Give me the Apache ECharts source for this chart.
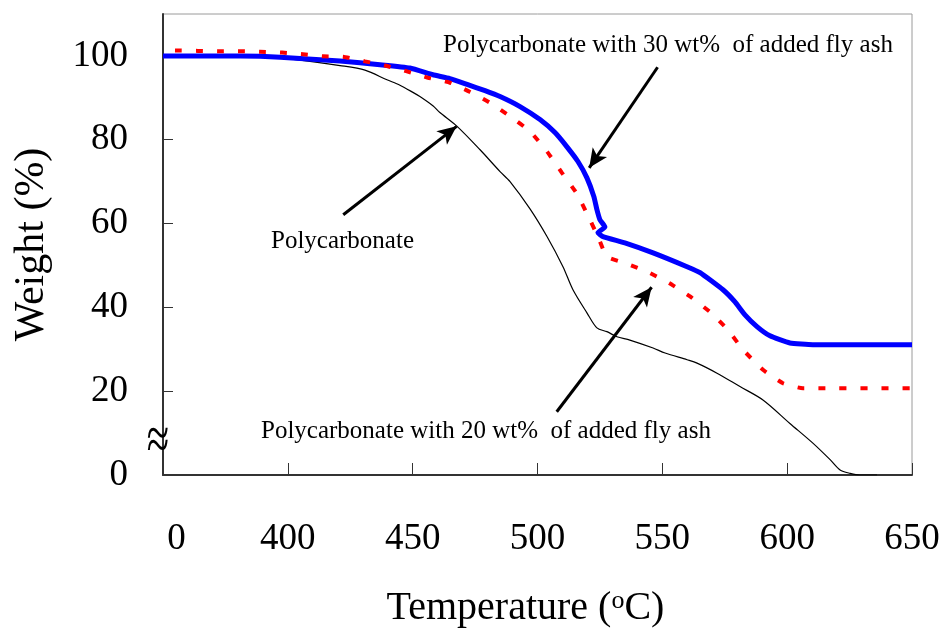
<!DOCTYPE html>
<html>
<head>
<meta charset="utf-8">
<script src="https://cdn.jsdelivr.net/npm/echarts@6/dist/echarts.min.js"></script>
<style>
  html, body { margin: 0; padding: 0; background: #fff; }
  #chart { width: 947px; height: 630px; }
</style>
</head>
<body>
<div id="chart"></div>
<script>
// Thermogravimetric curves: temperature (°C) vs remaining weight (%)
const xTicks = [350, 400, 450, 500, 550, 600, 650];
const yTicks = [0, 20, 40, 60, 80, 100];

// Neat polycarbonate
const pcTemp   = [350.0, 372.8, 388.9, 404.9, 420.9, 430.9, 439.7, 444.9, 450.1, 452.9, 458.1, 460.9, 467.8, 477.0, 485.0, 489.0, 497.0, 503.8, 510.2, 514.2, 519.8, 523.8, 527.8, 531.8, 537.0, 546.3, 551.1, 559.9, 563.9, 571.9, 581.1, 590.3, 601.1, 610.3, 617.3, 621.2, 625.2, 629.2, 636.0];
const pcWeight = [100.0, 100.0, 99.7, 99.0, 97.7, 96.6, 94.3, 93.0, 91.3, 90.3, 88.1, 86.5, 83.2, 77.6, 72.4, 70.0, 63.5, 56.9, 49.7, 44.2, 38.7, 35.1, 34.2, 33.0, 32.2, 30.3, 29.1, 27.5, 26.7, 24.3, 21.1, 17.9, 12.3, 7.6, 3.6, 1.2, 0.4, 0.0, 0.0];

// Polycarbonate with 30 wt% fly ash
const fa30Temp   = [350.0, 372.8, 388.9, 404.9, 420.9, 436.9, 448.9, 458.1, 464.9, 471.8, 479.0, 485.0, 493.0, 501.0, 507.0, 511.8, 516.2, 519.8, 522.6, 523.8, 525.0, 527.0, 524.2, 526.2, 535.0, 546.3, 559.9, 565.1, 574.3, 579.1, 583.1, 587.9, 593.1, 601.1, 610.3, 650.0];
const fa30Weight = [100.0, 100.0, 99.9, 99.4, 98.8, 97.9, 97.1, 95.5, 94.6, 93.2, 91.7, 90.3, 87.9, 84.8, 81.7, 78.3, 74.8, 70.9, 66.4, 63.3, 60.9, 59.2, 57.8, 56.9, 55.4, 53.0, 49.7, 48.3, 44.2, 41.3, 38.2, 35.4, 33.2, 31.5, 31.1, 31.1];

// Polycarbonate with 20 wt% fly ash
const fa20Temp   = [354.8, 364.0, 372.0, 380.8, 388.9, 397.7, 406.1, 414.1, 422.1, 430.9, 438.9, 447.7, 456.1, 465.0, 473.0, 481.0, 489.0, 497.0, 503.8, 509.8, 515.8, 520.2, 524.2, 527.8, 535.8, 544.3, 552.7, 561.1, 569.1, 576.3, 582.3, 590.3, 598.3, 606.3, 650.0];
const fa20Weight = [101.3, 101.2, 101.1, 101.1, 101.0, 100.8, 100.4, 99.9, 99.8, 98.7, 97.7, 96.3, 94.8, 93.6, 91.4, 88.8, 85.6, 82.0, 77.2, 72.1, 67.1, 61.9, 56.9, 52.1, 50.4, 48.4, 45.8, 42.6, 38.9, 34.6, 29.9, 25.1, 21.9, 20.7, 20.7];

// Annotation arrows: [tail, head] in data coordinates
const arrows = [
  [[548.1, 97.3], [520.7, 73.3]],
  [[422.2, 62.1], [467.6, 83.2]],
  [[507.7, 15.1], [545.7, 44.8]]
];

const FONT = '"Liberation Serif", "Times New Roman", serif';
const pairs = (xs, ys) => xs.map((x, i) => [x, ys[i]]);

const chart = echarts.init(document.getElementById('chart'), null, { renderer: 'canvas' });

chart.setOption({
  backgroundColor: '#fff',
  animation: false,
  grid: {
    left: 163, right: 35, top: 14, bottom: 155,
    outerBoundsMode: 'none',
    containLabel: false,
    show: true, borderColor: '#9a9a9a', borderWidth: 1, backgroundColor: 'transparent'
  },
  xAxis: {
    type: 'value',
    min: xTicks[0], max: xTicks[xTicks.length - 1], interval: 50,
    name: 'Temperature ({sup|o}C)',
    nameLocation: 'middle',
    nameGap: 113,
    nameTextStyle: {
      fontFamily: FONT, fontSize: 40, color: '#000', padding: [0, 24, 0, 0],
      rich: { sup: { fontFamily: FONT, fontSize: 26, color: '#000', verticalAlign: 'top' } }
    },
    axisLine: { show: true, lineStyle: { color: '#333', width: 2 } },
    axisTick: { show: true, inside: true, length: 12, lineStyle: { color: '#333', width: 1 } },
    splitLine: { show: false },
    axisLabel: {
      margin: 46,
      fontFamily: FONT, fontSize: 37, color: '#000',
      formatter: v => (v === xTicks[0] ? '{z|0}' : String(v)),
      rich: { z: { fontFamily: FONT, fontSize: 37, color: '#000', padding: [0, 0, 0, 27] } }
    }
  },
  yAxis: {
    type: 'value',
    min: 0, max: 110, interval: 20,
    name: 'Weight (%)',
    nameLocation: 'middle',
    nameGap: 110,
    nameRotate: 90,
    nameTextStyle: { fontFamily: FONT, fontSize: 42, color: '#000' },
    axisLine: { show: true, lineStyle: { color: '#333', width: 2 } },
    axisTick: { show: true, inside: true, length: 10, lineStyle: { color: '#333', width: 1 } },
    splitLine: { show: false },
    axisLabel: {
      margin: 35, showMaxLabel: false,
      fontFamily: FONT, fontSize: 37, color: '#000',
      formatter: v => (yTicks.indexOf(v) >= 0 ? String(v) : '')
    }
  },
  series: [
    {
      name: 'Polycarbonate',
      type: 'line', showSymbol: false, symbol: 'none', z: 2, smooth: 0.3,
      lineStyle: { color: '#000', width: 1.2 },
      data: pairs(pcTemp, pcWeight)
    },
    {
      name: 'Polycarbonate with 30 wt% of added fly ash',
      type: 'line', showSymbol: false, symbol: 'none', z: 3, smooth: 0.15,
      lineStyle: { color: '#0000ff', width: 5 },
      data: pairs(fa30Temp, fa30Weight)
    },
    {
      name: 'Polycarbonate with 20 wt% of added fly ash',
      type: 'line', showSymbol: false, symbol: 'none', z: 4, smooth: 0.15,
      lineStyle: { color: '#ff0000', width: 4, type: [7, 14] },
      data: pairs(fa20Temp, fa20Weight)
    },
    {
      name: 'arrows',
      type: 'line', data: [], z: 5,
      markLine: {
        silent: true,
        animation: false,
        symbol: ['none', 'arrow'],
        symbolSize: [13, 19],
        label: { show: false },
        lineStyle: { color: '#000', width: 3, type: 'solid' },
        data: arrows.map(a => [{ coord: a[0] }, { coord: a[1] }])
      }
    }
  ],
  graphic: [
    { type: 'text', left: 443, top: 33, silent: true,
      style: { text: 'Polycarbonate with 30 wt%  of added fly ash', font: '25px ' + FONT, fill: '#000' } },
    { type: 'text', left: 271, top: 229, silent: true,
      style: { text: 'Polycarbonate', font: '25px ' + FONT, fill: '#000' } },
    { type: 'text', left: 261, top: 419, silent: true,
      style: { text: 'Polycarbonate with 20 wt%  of added fly ash', font: '25px ' + FONT, fill: '#000' } },
    // axis break mark on the weight axis
    { type: 'text', x: 158, y: 443, scaleX: 1.2, scaleY: 1.8, silent: true, z: 10,
      style: { text: '≈', x: 0, y: 0, font: '34px ' + FONT, fill: '#000', align: 'center', verticalAlign: 'middle' } }
  ]
});
</script>
</body>
</html>
